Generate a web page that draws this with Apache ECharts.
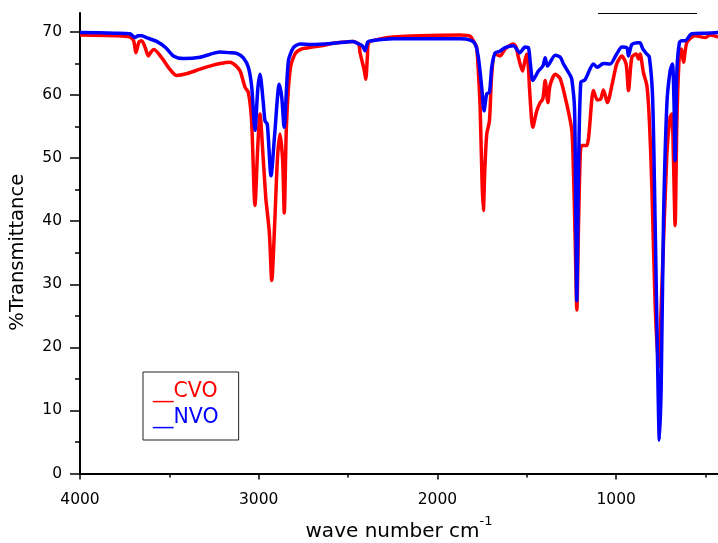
<!DOCTYPE html>
<html>
<head>
<meta charset="utf-8">
<script src="https://cdn.jsdelivr.net/npm/echarts@6/dist/echarts.min.js"></script>
<style>
  html, body { margin: 0; padding: 0; background: #fff; }
  #chart { width: 718px; height: 543px; }
</style>
</head>
<body>
<div id="chart"></div>
<script>
// wave numbers (cm-1) and %T
var cvoWave = [4000, 3800, 3720, 3700, 3687, 3670, 3655, 3635, 3618, 3600, 3586, 3540, 3500, 3459, 3400, 3328, 3260, 3216, 3160, 3130,
  3104, 3076, 3058, 3040, 3021, 3005, 2993, 2975, 2960, 2955, 2940, 2927, 2910, 2895, 2881, 2866, 2857, 2845, 2825, 2797,
  2759, 2700, 2650, 2584, 2472, 2440, 2433, 2410, 2401, 2392, 2385, 2300, 2248, 2100, 1873, 1817, 1789, 1780, 1771, 1761,
  1750, 1743, 1735, 1724, 1709, 1696, 1677, 1649, 1621, 1575, 1560, 1547, 1524, 1510, 1500, 1490, 1485, 1466, 1444, 1425,
  1410, 1397, 1382, 1370, 1341, 1313, 1276, 1248, 1239, 1230, 1220, 1210, 1200, 1192, 1164, 1127, 1105, 1086, 1071, 1049,
  1020, 997, 968, 944, 931, 912, 888, 875, 866, 847, 828, 814, 800, 782, 763, 744, 716, 698, 688, 679,
  670, 660, 646, 636, 623, 604, 558, 502, 474, 430];
var cvoT = [69.5, 69.4, 69.2, 68.6, 66.7, 68.4, 68.6, 67.5, 66.2, 66.9, 67.2, 65.8, 64.2, 63.1, 63.4, 64.1, 64.7, 65.0, 65.2, 64.7,
  63.8, 61.2, 60.4, 56.0, 42.5, 52.0, 57.0, 50.0, 43.5, 42.2, 38.0, 30.6, 40.0, 50.0, 53.8, 49.6, 41.3, 55.0, 63.8, 66.5,
  67.3, 67.6, 67.8, 68.2, 68.5, 68.0, 66.7, 64.0, 62.5, 66.0, 68.3, 69.0, 69.2, 69.4, 69.5, 69.3, 68.1, 67.5, 63.8, 58.0,
  46.0, 41.7, 48.0, 53.8, 55.9, 63.3, 66.5, 66.2, 67.3, 68.1, 67.6, 66.0, 63.8, 65.5, 66.5, 64.0, 61.2, 54.9, 57.5, 58.8,
  59.4, 62.3, 58.8, 61.5, 63.3, 62.6, 58.5, 54.4, 48.0, 38.0, 25.9, 40.0, 51.0, 52.0, 52.0, 60.7, 59.2, 59.4, 60.8, 58.8,
  62.0, 64.9, 66.2, 64.9, 60.7, 66.0, 66.5, 65.7, 66.5, 63.5, 61.5, 56.0, 45.4, 27.0, 16.9, 29.6, 50.7, 56.5, 57.0, 49.6,
  39.3, 55.9, 66.5, 67.3, 65.2, 68.3, 69.4, 69.1, 69.5, 69.2];

var nvoWave = [4000, 3800, 3720, 3692, 3675, 3655, 3620, 3571, 3520, 3478, 3422, 3328, 3216, 3160, 3123, 3086, 3058, 3039, 3021, 3005,
  2993, 2975, 2965, 2952, 2931, 2910, 2885, 2871, 2858, 2834, 2806, 2769, 2700, 2584, 2472, 2440, 2420, 2405, 2390, 2368,
  2248, 1873, 1817, 1789, 1771, 1752, 1739, 1724, 1709, 1696, 1677, 1653, 1621, 1575, 1539, 1510, 1491, 1480, 1466, 1435,
  1410, 1397, 1384, 1341, 1313, 1294, 1257, 1248, 1233, 1226, 1220, 1212, 1198, 1174, 1127, 1105, 1071, 1034, 997, 968,
  940, 931, 912, 875, 866, 851, 828, 814, 796, 782, 769, 758, 748, 735, 716, 698, 685, 676, 670, 660,
  646, 633, 614, 577, 500, 430];
var nvoT = [69.9, 69.8, 69.7, 69.1, 69.4, 69.4, 69.0, 68.5, 67.5, 66.2, 65.8, 66.0, 66.8, 66.7, 66.6, 65.9, 64.4, 61.2, 54.4, 61.0,
  63.3, 59.0, 55.9, 55.4, 47.2, 54.0, 61.7, 59.6, 54.9, 65.4, 67.5, 68.1, 68.0, 68.2, 68.5, 68.1, 67.8, 67.0, 68.4, 68.6,
  68.9, 68.9, 68.7, 68.1, 66.0, 61.2, 57.5, 60.2, 60.4, 64.4, 66.7, 66.9, 67.5, 67.8, 66.7, 67.6, 67.5, 65.0, 62.3, 63.8,
  64.6, 65.9, 64.6, 66.3, 66.0, 64.9, 63.1, 62.5, 58.0, 42.0, 27.4, 45.0, 62.0, 62.4, 64.9, 64.4, 65.0, 64.9, 66.5, 67.6,
  67.5, 66.2, 68.0, 68.3, 68.3, 67.3, 66.5, 66.0, 59.6, 40.1, 19.1, 5.3, 13.7, 40.1, 58.6, 63.8, 64.9, 58.6, 49.6, 63.8,
  68.3, 68.6, 68.6, 69.7, 69.8, 69.9];

var xMajorTicks = [4000, 3000, 2000, 1000];
var xMinorTicks = [3500, 2500, 1500, 500];
var yMajorTicks = [0, 10, 20, 30, 40, 50, 60, 70];
var yMinorTicks = [5, 15, 25, 35, 45, 55, 65];

function pairs(xs, ys) {
    var out = [];
    for (var i = 0; i < xs.length; i++) {
        out.push([xs[i], ys[i]]);
    }
    return out;
}

var font = 'DejaVu Sans';
var myChart = echarts.init(document.getElementById('chart'));
myChart.setOption({
    animation: false,
    textStyle: {fontFamily: font},
    grid: {left: 80, right: 0, top: 13, bottom: 69.5, containLabel: false, outerBoundsMode: 'none'},
    legend: {
        orient: 'vertical',
        left: 143,
        top: 372,
        padding: [9, 20, 12, 5],
        itemGap: 5,
        itemWidth: 0,
        itemHeight: 0,
        borderColor: '#222',
        borderWidth: 1,
        selectedMode: false,
        formatter: '__{name}',
        textStyle: {fontSize: 20.5, fontFamily: font},
        data: [
            {name: 'CVO', icon: 'none', textStyle: {color: '#ff0000'}},
            {name: 'NVO', icon: 'none', textStyle: {color: '#0000ff'}}
        ]
    },
    xAxis: [
        {
            type: 'value',
            inverse: true,
            min: 430,
            max: 4000,
            splitLine: {show: false},
            axisLine: {lineStyle: {color: '#000', width: 2}},
            axisTick: {length: 6, lineStyle: {width: 1.5}, customValues: xMajorTicks},
            axisLabel: {
                customValues: xMajorTicks, color: '#000', fontSize: 15.5, margin: 18,
                formatter: function (v) { return String(v); }
            },
            name: '{a|wave number cm}{s|-1}',
            nameLocation: 'middle',
            nameGap: 42,
            nameTextStyle: {
                rich: {
                    a: {fontSize: 20, color: '#000', fontFamily: font, verticalAlign: 'bottom', lineHeight: 26},
                    s: {fontSize: 13, color: '#000', fontFamily: font, verticalAlign: 'top', lineHeight: 26}
                }
            }
        },
        {
            type: 'value',
            inverse: true,
            min: 430,
            max: 4000,
            position: 'bottom',
            splitLine: {show: false},
            axisLine: {show: false},
            axisTick: {length: 4, lineStyle: {width: 1.5, color: '#000'}, customValues: xMinorTicks},
            axisLabel: {show: false}
        }
    ],
    yAxis: [
        {
            type: 'value',
            min: 0,
            max: 73,
            splitLine: {show: false},
            axisLine: {show: true, lineStyle: {color: '#000', width: 2}},
            axisTick: {show: true, length: 10, lineStyle: {width: 1.5}, customValues: yMajorTicks},
            axisLabel: {customValues: yMajorTicks, color: '#000', fontSize: 15.5, margin: 18},
            name: '%Transmittance',
            nameLocation: 'middle',
            nameGap: 52,
            nameTextStyle: {fontSize: 19.5, color: '#000', fontFamily: font, padding: [0, 18, 0, 0]}
        },
        {
            type: 'value',
            min: 0,
            max: 73,
            position: 'left',
            splitLine: {show: false},
            axisLine: {show: false},
            axisTick: {show: true, length: 5, lineStyle: {width: 1.5, color: '#000'}, customValues: yMinorTicks},
            axisLabel: {show: false}
        }
    ],
    graphic: [
        {
            type: 'line',
            shape: {x1: 598, y1: 13.5, x2: 697, y2: 13.5},
            style: {stroke: '#000', lineWidth: 1}
        }
    ],
    series: [
        {
            name: 'CVO',
            type: 'line',
            showSymbol: false,
            smooth: 0.25,
            data: pairs(cvoWave, cvoT),
            itemStyle: {color: '#ff0000'},
            lineStyle: {color: '#ff0000', width: 3.5}
        },
        {
            name: 'NVO',
            type: 'line',
            showSymbol: false,
            smooth: 0.25,
            data: pairs(nvoWave, nvoT),
            itemStyle: {color: '#0000ff'},
            lineStyle: {color: '#0000ff', width: 3.5}
        }
    ]
});
</script>
</body>
</html>
